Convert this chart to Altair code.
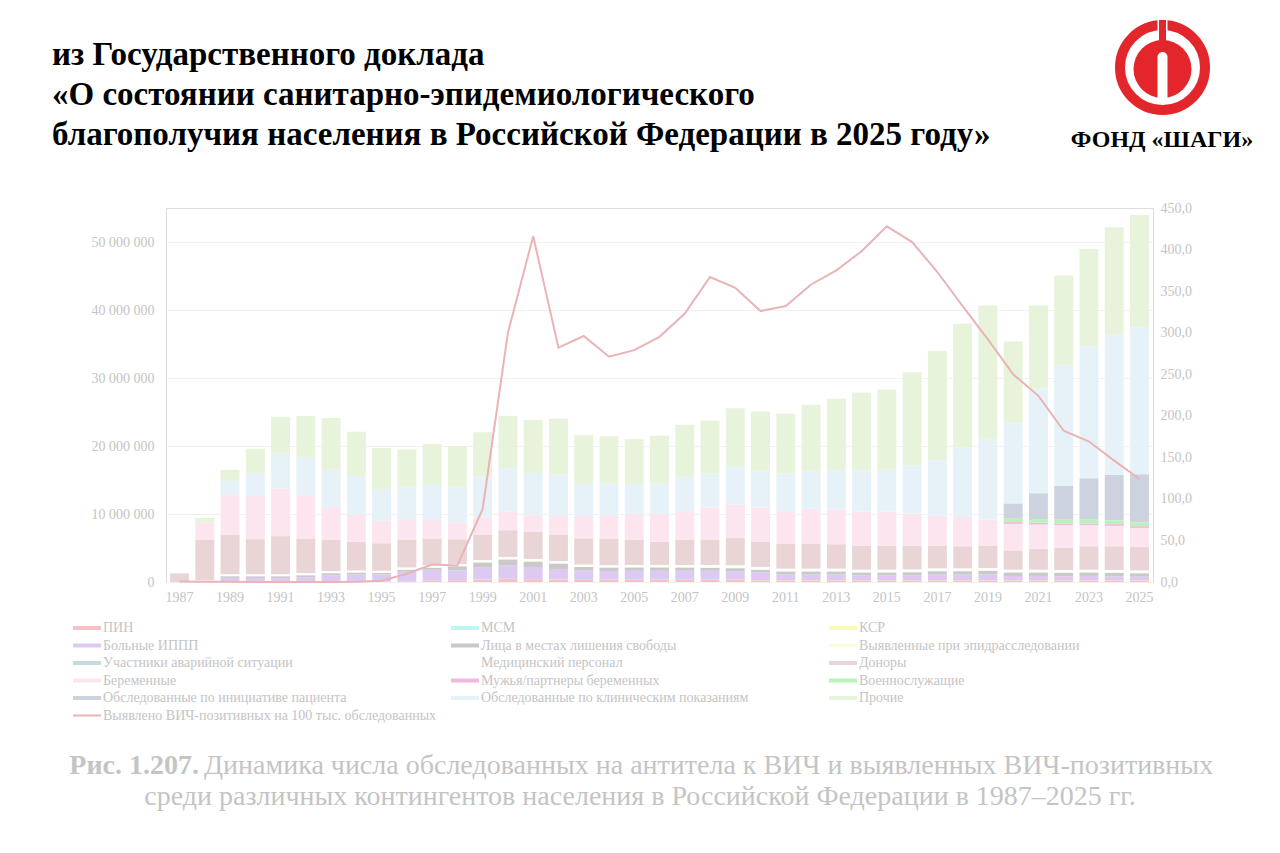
import altair as alt
import pandas as pd

years = list(range(1987, 2026))

# segment values, millions of people examined (bottom to top of each bar)
pin = [0, 0, 0.05, 0.05, 0.05, 0.05, 0.05, 0.05, 0.05, 0.1, 0.2, 0.25, 0.35, 0.45, 0.4, 0.35,
       0.3, 0.3, 0.3, 0.3, 0.3, 0.3, 0.3, 0.25, 0.25, 0.25, 0.25, 0.25, 0.25, 0.25, 0.25, 0.25, 0.25,
       0.25, 0.25, 0.25, 0.25, 0.25, 0.25]
msm = [0] * 18 + [0.02] * 21
ksr = [0] * 12 + [0.02] * 27
ippp = [0, 0.1, 0.55, 0.55, 0.55, 0.65, 0.95, 1.05, 1.05, 1.4, 1.6, 1.45, 1.75, 2.0, 1.8, 1.55,
        1.35, 1.3, 1.3, 1.3, 1.3, 1.3, 1.2, 1.15, 0.8, 0.8, 0.8, 0.65, 0.65, 0.7, 0.8, 0.8,
        0.85, 0.6, 0.6, 0.55, 0.6, 0.55, 0.5]
prison = [0, 0.05, 0.25, 0.25, 0.25, 0.3, 0.3, 0.3, 0.25, 0.3, 0.3, 0.6, 0.75, 0.85, 0.8, 0.8,
          0.55, 0.5, 0.5, 0.5, 0.5, 0.45, 0.5, 0.35, 0.45, 0.45, 0.45, 0.45, 0.45, 0.45, 0.5, 0.5,
          0.5, 0.5, 0.5, 0.5, 0.5, 0.5, 0.5]
epid = [0] * 9 + [0.05] * 30
accident = [0] * 18 + [0.02] * 21
medical = [0, 0.1] + [0.3] * 19 + [0.35] * 18
donors = [1.27, 6.0, 5.75, 5.15, 5.6, 5.1, 4.6, 4.2, 4.05, 4.05, 3.95, 3.65, 3.7, 3.95, 4.05, 3.85,
          3.85, 3.85, 3.7, 3.4, 3.7, 3.75, 4.0, 3.75, 3.7, 3.7, 3.6, 3.55, 3.55, 3.5, 3.35, 3.25,
          3.3, 2.85, 3.05, 3.3, 3.45, 3.5, 3.45]
pregnant = [0, 2.53, 5.9, 6.35, 6.95, 6.35, 4.8, 4.05, 3.3, 2.9, 2.7, 2.5, 2.6, 2.7, 2.4, 2.8,
            3.3, 3.4, 3.8, 4.1, 4.2, 4.7, 4.9, 5.0, 4.8, 5.1, 5.1, 5.0, 5.0, 4.7, 4.4, 4.3,
            3.8, 3.9, 3.6, 3.3, 3.1, 3.0, 2.8]
partners = [0] * 33 + [0.25, 0.25, 0.25, 0.25, 0.25, 0.25]
military = [0] * 33 + [0.5, 0.55, 0.55, 0.55, 0.55, 0.55]
patient = [0] * 33 + [2.25, 3.8, 5.0, 6.1, 6.7, 7.1]
clinical = [0, 0, 2.05, 3.35, 5.2, 5.55, 5.5, 5.65, 4.7, 4.9, 5.3, 5.2, 6.0, 6.4, 6.2, 6.1,
            4.7, 4.8, 4.4, 4.5, 5.0, 5.0, 5.6, 5.4, 5.5, 5.6, 5.8, 6.0, 6.2, 7.1, 8.1, 10.2,
            11.9, 11.8, 15.4, 17.7, 19.4, 20.6, 21.6]
other = [0, 0.66, 1.65, 3.6, 5.4, 6.1, 7.6, 6.5, 6.0, 5.5, 5.9, 6.0, 6.5, 7.7, 7.8, 8.2,
         7.2, 6.9, 6.6, 7.0, 7.7, 7.8, 8.6, 8.7, 8.8, 9.7, 10.5, 11.5, 11.7, 13.7, 16.1, 18.2,
         19.6, 12.0, 12.2, 13.2, 14.3, 15.8, 16.5]

# HIV-positive per 100 thousand examined
rate = [0.5, 0.3, 0.2, 0.1, 0.1, 0.1, 0.1, 0.3, 1.4, 10, 21, 20, 88, 300, 416, 282,
        296, 271, 279, 295, 323, 367, 354, 326, 332, 358, 375, 398, 428, 409, 373, 332,
        292, 250, 224, 182, 169, 146, 124]

names = ["ПИН", "МСМ", "КСР", "Больные ИППП", "Лица в местах лишения свободы",
         "Выявленные при эпидрасследовании", "Участники аварийной ситуации",
         "Медицинский персонал", "Доноры", "Беременные", "Мужья/партнеры беременных",
         "Военнослужащие", "Обследованные по инициативе пациента",
         "Обследованные по клиническим показаниям", "Прочие"]
series = [pin, msm, ksr, ippp, prison, epid, accident, medical, donors, pregnant,
          partners, military, patient, clinical, other]
colors = ["#f4c2c2", "#bff5f7", "#fbf9b5", "#dccaf2", "#c9c9c9", "#fbfbe0", "#c4dcdc",
          "#ffffff", "#e9d5d5", "#fde5f0", "#f0b7df", "#b9f3b9", "#cdd3de", "#e6f2f8",
          "#e7f3da"]
line_name = "Выявлено ВИЧ-позитивных на 100 тыс. обследованных"
line_color = "#eab3b5"

rows = []
for k, (nm, vals) in enumerate(zip(names, series)):
    for yr, v in zip(years, vals):
        rows.append({"year": yr, "group": nm, "value": v * 1e6, "ord": k})
df = pd.DataFrame(rows)
rate_df = pd.DataFrame({"year": years, "rate": rate, "series": line_name})

FONT = "Liberation Serif"
GREY = "#c4c4c4"
LEG_X, LEG_Y, ROW = -86, 413, 17.5

x_enc = alt.X("year:O", title=None,
              scale=alt.Scale(paddingInner=0.25, paddingOuter=0.16),
              axis=alt.Axis(values=years[::2], labelAngle=0, ticks=False, domain=False,
                            labelFont=FONT, labelFontSize=14, labelColor=GREY,
                            labelPadding=8, grid=False))

bars = alt.Chart(df).mark_bar(opacity=1).encode(
    x=x_enc,
    y=alt.Y("value:Q", stack="zero", title=None,
            scale=alt.Scale(domain=[0, 55e6], nice=False),
            axis=alt.Axis(values=[0, 1e7, 2e7, 3e7, 4e7, 5e7],
                          labelExpr="replace(replace(format(datum.value, ','), ',', ' '), ',', ' ')",
                          grid=True, gridColor="#f1f1f1", domain=False, ticks=False,
                          labelFont=FONT, labelFontSize=14, labelColor=GREY, labelPadding=12)),
    color=alt.Color("group:N", scale=alt.Scale(domain=names, range=colors),
                    legend=alt.Legend(orient="none", legendX=LEG_X, legendY=LEG_Y, columns=3,
                                      direction="horizontal",
                                      title=None, symbolType="M-2.8,-0.4H2.8V0.4H-2.8Z",
                                      symbolSize=100, symbolStrokeWidth=0, symbolOpacity=1,
                                      labelFont=FONT, labelFontSize=14, labelColor=GREY,
                                      labelLimit=500, labelOffset=9, gridAlign="all",
                                      columnPadding=80, rowPadding=3.5)),
    order=alt.Order("ord:Q", sort="ascending"),
)

line = alt.Chart(rate_df).mark_line(strokeWidth=2).encode(
    x=alt.X("year:O"),
    y=alt.Y("rate:Q", title=None, scale=alt.Scale(domain=[0, 450], nice=False),
            axis=alt.Axis(orient="right", values=list(range(0, 451, 50)),
                          labelExpr="replace(format(datum.value, '.1f'), '.', ',')",
                          grid=False, domain=False, ticks=False,
                          labelFont=FONT, labelFontSize=14, labelColor=GREY, labelPadding=7)),
    stroke=alt.Stroke("series:N", scale=alt.Scale(domain=[line_name], range=[line_color]),
                      legend=alt.Legend(orient="none", legendX=LEG_X, legendY=LEG_Y + 5 * ROW,
                                        title=None, symbolType="M-2.8,0H2.8",
                                        symbolSize=100, symbolStrokeWidth=2, labelFont=FONT,
                                        labelFontSize=14, labelColor=GREY, labelLimit=500,
                                        labelOffset=9)),
)

plot = alt.layer(bars, line).resolve_scale(y="independent", color="independent")

# header, logo and caption (pixel positions relative to the plot origin)
def txt(s, x, y, size, color, weight="normal", align="left"):
    return alt.Chart(pd.DataFrame({"t": [s]})).mark_text(
        font=FONT, fontSize=size, fontWeight=weight, color=color, align=align,
        baseline="alphabetic").encode(text="t:N", x=alt.value(x), y=alt.value(y))

title_lines = ["из Государственного доклада",
               "«О состоянии санитарно-эпидемиологического",
               "благополучия населения в Российской Федерации в 2025 году»"]
headers = [txt(s, -114, -143 + 40 * i, 33, "#000000", "bold") for i, s in enumerate(title_lines)]

RED = "#e3262b"
ring = alt.Chart(pd.DataFrame({"a": [0]})).mark_point(
    shape="circle", filled=False, stroke=RED, strokeWidth=10, size=85 ** 2, opacity=1
).encode(x=alt.value(996.5), y=alt.value(-140.5))
disc = alt.Chart(pd.DataFrame({"a": [0]})).mark_point(
    shape="circle", filled=True, fill=RED, strokeWidth=0, size=58 ** 2, opacity=1
).encode(x=alt.value(996.5), y=alt.value(-139))
bar_w = alt.Chart(pd.DataFrame({"a": [0]})).mark_rect(color="#ffffff").encode(
    x=alt.value(991.5), x2=alt.value(1001.5), y=alt.value(-188), y2=alt.value(-174))
bar_r = alt.Chart(pd.DataFrame({"a": [0]})).mark_rect(color=RED).encode(
    x=alt.value(993), x2=alt.value(1000), y=alt.value(-188), y2=alt.value(-163))
slot = alt.Chart(pd.DataFrame({"a": [0]})).mark_rect(
    color="#ffffff", cornerRadiusTopLeft=5, cornerRadiusTopRight=5).encode(
    x=alt.value(991.5), x2=alt.value(1001.5), y=alt.value(-156), y2=alt.value(-108))
logo_text = txt("ФОНД «ШАГИ»", 996, -61, 24, "#000000", "bold", "center")

caption = [
    txt("Рис. 1.207.", 33, 566, 28, GREY, "bold", "right"),
    txt("Динамика числа обследованных на антитела к ВИЧ и выявленных ВИЧ-позитивных",
        38, 566, 28, GREY),
    txt("среди различных контингентов населения в Российской Федерации в 1987–2025 гг.",
        474, 597, 28, GREY, "normal", "center"),
]

chart = alt.layer(plot, *headers, ring, disc, bar_w, bar_r, slot, logo_text, *caption).properties(
    width=987, height=374,
    autosize=alt.AutoSizeParams(type="none"),
    padding={"left": 158, "top": 200, "right": 119, "bottom": 250},
).configure_view(stroke="#e9e9e9").configure(background="#ffffff")

chart.save("out.html", embed_options={"renderer": "svg", "actions": False})
